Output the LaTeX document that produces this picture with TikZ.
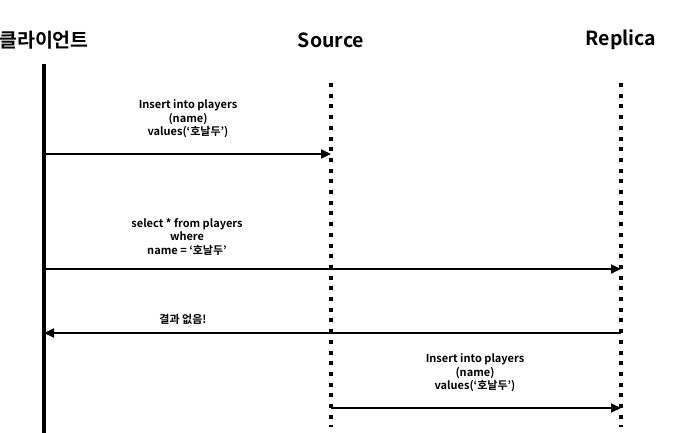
\documentclass[tikz,border=0pt]{standalone}
\usepackage{fontspec}
\setmainfont{Noto Sans CJK KR}[BoldFont={* Bold}]
\usetikzlibrary{arrows.meta}
\begin{document}
\begin{tikzpicture}[x=1pt,y=-1pt,
  hdr/.style={font=\fontsize{19.5}{21}\selectfont\bfseries, anchor=center},
  msg/.style={font=\fontsize{11}{13.5}\selectfont\bfseries, align=center, anchor=center},
  life/.style={line width=4pt},
  dotline/.style={line width=4pt, dash pattern=on 4pt off 6.7pt},
  arr/.style={line width=2pt, -{Triangle[length=10pt,width=9pt]}}]
\useasboundingbox[fill=white] (0,0) rectangle (674,433);
% headers
\node[hdr] (hc) at (44,40) {클라이언트};
\node[hdr] (hs) at (331,40) {Source};
\node[hdr] (hr) at (621,40) {Replica};
% lifelines
\coordinate (ct) at (44,64);
\coordinate (cb) at (44,433);
\coordinate (st) at (331,83);
\coordinate (sb) at (331,427);
\coordinate (rt) at (621,83);
\coordinate (rb) at (621,427);
\draw[life] (ct) -- (cb);
\draw[dotline] (st) -- (sb);
\draw[dotline] (rt) -- (rb);
% message endpoints
\coordinate (c1) at (44,154);
\coordinate (s1) at (331,154);
\coordinate (c2) at (44,269);
\coordinate (r2) at (621,269);
\coordinate (r3) at (621,333);
\coordinate (c3) at (44,333);
\coordinate (s4) at (331,408);
\coordinate (r4) at (621,408);
\draw[arr] (c1) -- (s1);
\draw[arr] (c2) -- (r2);
\draw[arr] (r3) -- (c3);
\draw[arr] (s4) -- (r4);
% labels
\node[msg] (m1) at (188,119) {Insert into players\\(name)\\values(‘호날두’)};
\node[msg] (m2) at (187,237) {select * from players\\where\\name = ‘호날두’};
\node[msg] (m3) at (183,319) {결과 없음!};
\node[msg] (m4) at (475,373) {Insert into players\\(name)\\values(‘호날두’)};
\end{tikzpicture}
\end{document}
